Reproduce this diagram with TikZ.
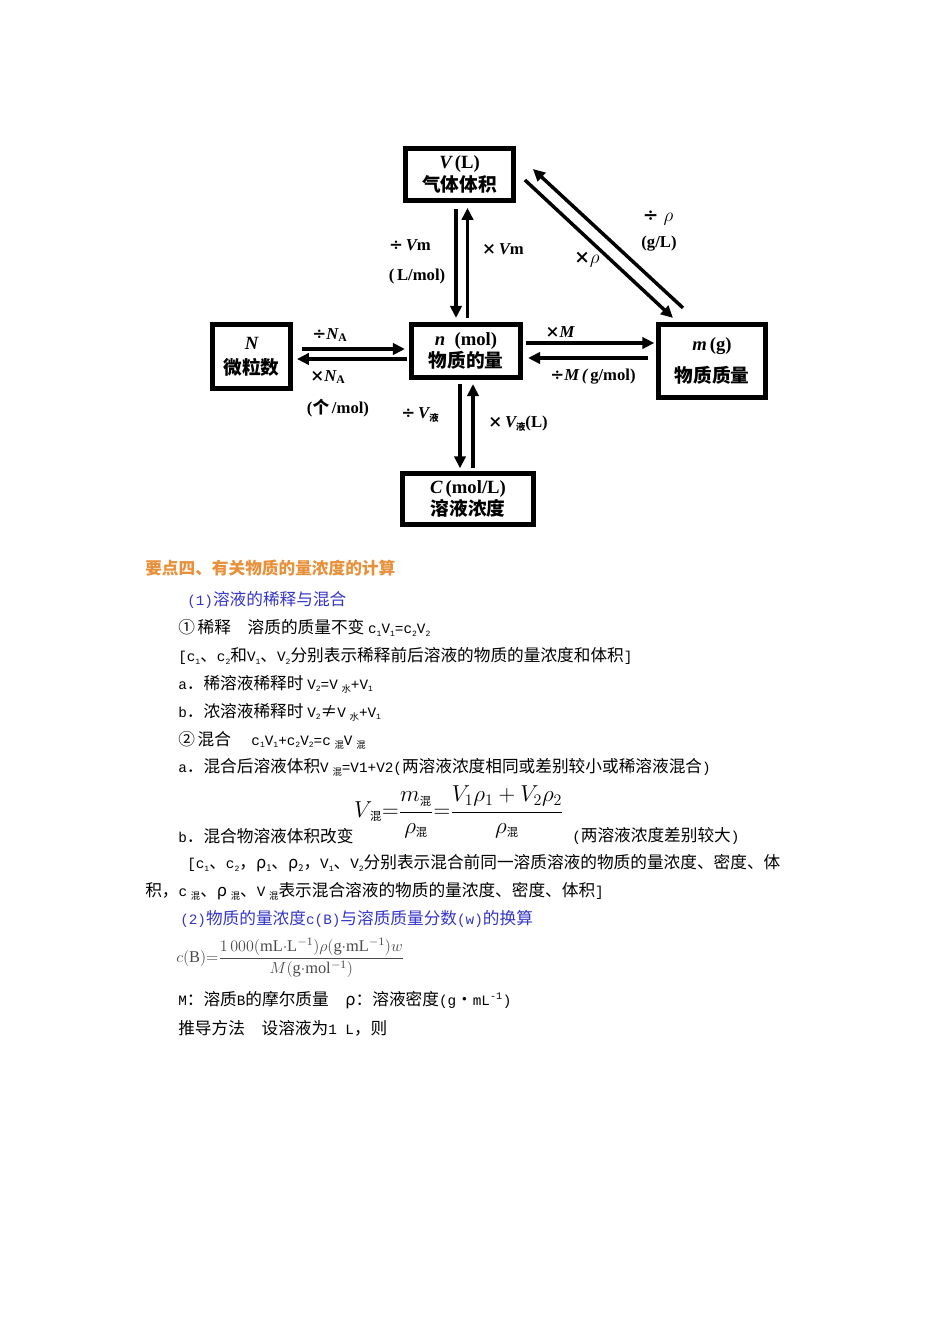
\documentclass[tikz,border=0pt]{standalone}
\usepackage{fontspec}
\setmainfont{Liberation Serif}
\newfontfamily\cjk{Noto Sans CJK SC}
\newfontfamily\latm{Liberation Mono}[Scale=0.86]
\newfontfamily\symf{DejaVu Serif}
\usetikzlibrary{arrows.meta,calc}
\definecolor{headorange}{HTML}{E8903A}
\definecolor{subblue}{HTML}{3535C8}
\definecolor{formgray}{HTML}{4A4A4A}
\newcommand\lowtxt[1]{\raisebox{-0.35ex}{\scriptsize #1}}
\newcommand\lm[1]{{\latm #1}}
\newcommand\hunsub{\mbox{\cjk\fontsize{8.5}{9}\selectfont 混}}
\newcommand\tms{{\symf\bfseries ×}}
\newcommand\dvs{{\symf\bfseries ÷}}
\begin{document}
\begin{tikzpicture}[x=0.75pt,y=-0.75pt,
  box/.style={draw, line width=3.6pt, align=center, inner sep=0pt,
    font=\bfseries\fontsize{14}{17}\selectfont},
  arr/.style={line width=2.6pt, -{Triangle[length=9pt,width=8.5pt]}},
  lab/.style={inner sep=0pt, font=\bfseries\fontsize{12.5}{14}\selectfont},
  body/.style={anchor=west, inner sep=0pt, font=\cjk\fontsize{12.5}{14}\selectfont},
  blueline/.style={body, text=subblue}
]
\useasboundingbox (0,0) rectangle (950,1344);

% ---------------- boxes ----------------
\node[box, minimum width=81pt, minimum height=39pt] (V) at (459.5,174.5)
  {{\itshape V}\,(L)\\{\cjk\bfseries 气体体积}};
\node[box, minimum width=58.5pt, minimum height=48pt] (N) at (251.5,356.5)
  {{\itshape N}\\[2pt]{\cjk\bfseries 微粒数}};
\node[box, minimum width=82pt, minimum height=40pt] (n) at (466,351)
  {{\itshape n}\ \ (mol)\\{\cjk\bfseries 物质的量}};
\node[box, minimum width=80pt, minimum height=55pt] (m) at (712,361)
  {{\itshape m}\,(g)\\[7pt]{\cjk\bfseries 物质质量}};
\node[box, minimum width=98pt, minimum height=38pt] (C) at (468,499)
  {{\itshape C}\,(mol/L)\\{\cjk\bfseries 溶液浓度}};

% ---------------- arrows ----------------
\draw[arr] ($(V.south)+(-3.5,6)$) -- ($(n.north)+(-10,-4)$);
\draw[arr] ($(n.north)+(1.5,-4)$) -- ($(V.south)+(8,5)$);

\draw[arr] ($(N.east)+(9,-7.5)$) -- ($(n.west)+(-4,-2)$);
\draw[arr] ($(n.west)+(-2,8)$) -- ($(N.east)+(4,2.5)$);

\draw[arr] ($(n.east)+(3,-8)$) -- ($(m.west)+(-2,-18)$);
\draw[arr] ($(m.west)+(-8,-3)$) -- ($(n.east)+(5,7)$);

\draw[arr] ($(n.south)+(-6,4)$) -- ($(C.north)+(-8,-3)$);
\draw[arr] ($(C.north)+(5,-3)$) -- ($(n.south)+(7,4)$);

\draw[arr] ($(m.north)+(-29,-14)$) -- ($(V.east)+(17,-5.5)$);
\draw[arr] ($(V.east)+(9,5.5)$) -- ($(m.north)+(-39,-4)$);

% ---------------- arrow labels ----------------
\node[lab] (l1) at (410,245) {\dvs\,{\itshape V}m};
\node[lab] (l2) at (417,276) {(\,L/mol)};
\node[lab] (l3) at (503,249) {\tms\,{\itshape V}m};
\node[lab, font=\bfseries\fontsize{14}{16}\selectfont] (l4) at (658,218) {\dvs\;$\rho$};
\node[lab] (l5) at (659,244) {(g/L)};
\node[lab, font=\bfseries\fontsize{14}{16}\selectfont] (l6) at (587,260) {\tms$\rho$};
\node[lab] (l7) at (330,335) {\dvs{\itshape N}\textsubscript{A}};
\node[lab] (l8) at (328,377) {\tms{\itshape N}\textsubscript{A}};
\node[lab] (l9) at (338,408) {({\cjk 个}\,/mol)};
\node[lab] (l10) at (560,332) {\tms{\itshape M}};
\node[lab] (l11) at (593,377) {\dvs{\itshape M}\,{\itshape (}\,g/mol)};
\node[lab] (l12) at (420,415) {\dvs\,{\itshape V}\lowtxt{\cjk\bfseries 液}};
\node[lab] (l13) at (518,424) {\tms\,{\itshape V}\lowtxt{\cjk\bfseries 液}(L)};

% ---------------- text ----------------
\node[body, text=headorange, font=\cjk\bfseries\fontsize{12.5}{14}\selectfont] (t1) at (145,568)
  {要点四、有关物质的量浓度的计算};
\node[blueline] (t2) at (187,600) {\lm{(1)}溶液的稀释与混合};
\node[body] (t3) at (178,628) {①\,稀释　溶质的质量不变 \lm{c\lowtxt{1}V\lowtxt{1}=c\lowtxt{2}V\lowtxt{2}}};
\node[body] (t4) at (178,656) {\lm{[c\lowtxt{1}}、\lm{c\lowtxt{2}}和\lm{V\lowtxt{1}}、\lm{V\lowtxt{2}}分别表示稀释前后溶液的物质的量浓度和体积\lm{]}};
\node[body] (t5) at (178,684) {\lm{a}．稀溶液稀释时 \lm{V\lowtxt{2}=V} \lowtxt{水}\lm{+V\lowtxt{1}}};
\node[body] (t6) at (178,712) {\lm{b}．浓溶液稀释时 \lm{V\lowtxt{2}}≠\lm{V} \lowtxt{水}\lm{+V\lowtxt{1}}};
\node[body] (t7) at (178,740) {②\,混合　 \lm{c\lowtxt{1}V\lowtxt{1}+c\lowtxt{2}V\lowtxt{2}=c} \lowtxt{混}\lm{V} \lowtxt{混}};
\node[body] (t8) at (178,767) {\lm{a}．混合后溶液体积\lm{V} \lowtxt{混}\lm{=V1+V2(}两溶液浓度相同或差别较小或稀溶液混合\lm{)}};
\node[inner sep=0pt, font=\fontsize{16.5}{18}\selectfont] (f1) at (459,812)
  {$\displaystyle V_{\,\hunsub}{=}\frac{m_{\hunsub}}{\rho_{\hunsub}}{=}\frac{V_1\rho_1+V_2\rho_2}{\rho_{\hunsub}}$};
\node[body] (t9) at (178,836) {\lm{b}．混合物溶液体积改变};
\node[body] (t10) at (572,836) {\lm{(}两溶液浓度差别较大\lm{)}};
\node[body] (t11) at (187,863) {\lm{[c\lowtxt{1}}、\lm{c\lowtxt{2}}，ρ\lowtxt{1}、ρ\lowtxt{2}，\lm{V\lowtxt{1}}、\lm{V\lowtxt{2}}分别表示混合前同一溶质溶液的物质的量浓度、密度、体};
\node[body] (t12) at (145,891) {积，\lm{c} \lowtxt{混}、ρ \lowtxt{混}、\lm{V} \lowtxt{混}表示混合溶液的物质的量浓度、密度、体积\lm{]}};
\node[blueline] (t13) at (180,919) {\lm{(2)}物质的量浓度\lm{c(B)}与溶质质量分数\lm{(w)}的换算};
\node[anchor=west, inner sep=0pt, text=formgray, font=\fontsize{12.3}{14}\selectfont] (f2) at (176,958)
  {$\displaystyle c(\mathrm{B}){=}\frac{1\,000(\mathrm{mL{\cdot}L^{-1}})\rho(\mathrm{g{\cdot}mL^{-1}})w}{M(\mathrm{g{\cdot}mol^{-1}})}$};
\node[body] (t14) at (178,1000) {\lm{M}：溶质\lm{B}的摩尔质量　ρ：溶液密度\lm{(g}・\lm{mL\textsuperscript{-1})}};
\node[body] (t15) at (178,1028) {推导方法　设溶液为\lm{1 L}，则};
\end{tikzpicture}
\end{document}
